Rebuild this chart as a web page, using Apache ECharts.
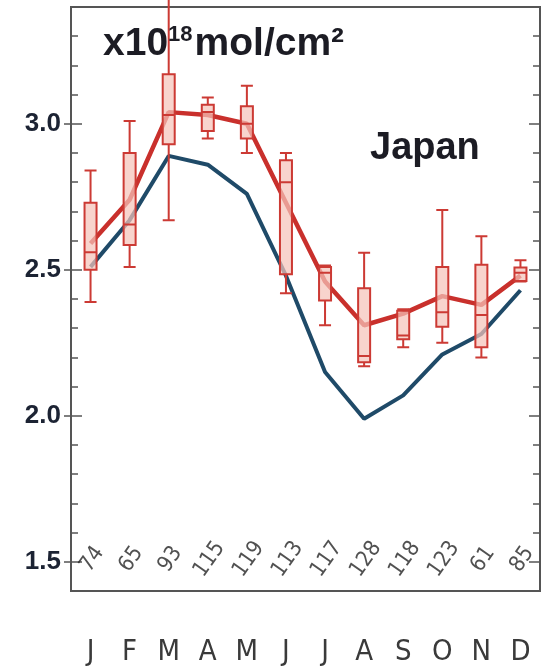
<!DOCTYPE html>
<html>
<head>
<meta charset="utf-8">
<script src="https://cdn.jsdelivr.net/npm/echarts@6/dist/echarts.min.js"></script>
<style>
  html, body { margin: 0; padding: 0; background: #ffffff; }
  #chart { width: 546px; height: 668px; }
</style>
</head>
<body>
<div id="chart"></div>
<script>
// Monthly column amounts (x10^18 mol/cm^2) over Japan
const months = ['J', 'F', 'M', 'A', 'M', 'J', 'J', 'A', 'S', 'O', 'N', 'D'];

// Model monthly mean (dark blue line)
const modelMean = [2.51, 2.67, 2.89, 2.86, 2.76, 2.48, 2.15, 1.99, 2.07, 2.21, 2.28, 2.43];

// Observed monthly mean (red line)
const obsMean = [2.59, 2.74, 3.04, 3.03, 3.00, 2.73, 2.46, 2.31, 2.35, 2.41, 2.38, 2.48];

// Observed distribution per month: [low whisker, Q1, median, Q3, high whisker]
const obsBoxes = [
  [2.39, 2.50, 2.56, 2.73, 2.84],
  [2.51, 2.585, 2.655, 2.90, 3.01],
  [2.67, 2.93, 3.03, 3.17, 3.45],
  [2.95, 2.975, 3.04, 3.065, 3.09],
  [2.90, 2.95, 3.00, 3.06, 3.13],
  [2.42, 2.485, 2.80, 2.875, 2.90],
  [2.31, 2.395, 2.49, 2.51, 2.515],
  [2.17, 2.183, 2.205, 2.437, 2.558],
  [2.235, 2.262, 2.275, 2.36, 2.365],
  [2.25, 2.305, 2.355, 2.51, 2.705],
  [2.20, 2.235, 2.345, 2.517, 2.615],
  [2.46, 2.462, 2.49, 2.508, 2.533]
];

// Number of observations in each month
const sampleCounts = [74, 65, 93, 115, 119, 113, 117, 128, 118, 123, 61, 85];

// Value axis range and the labelled levels
const yMin = 1.4;
const yMax = 3.4;
const yStep = 0.1;
const majorLevels = [1.5, 2.0, 2.5, 3.0];
const countLevel = 1.5;

const frameColor = '#555555';
const sans = '"Liberation Sans", Arial, sans-serif';
const condensed = '"DejaVu Sans Condensed", "Liberation Sans", sans-serif';

function valueAxis(extra) {
  return Object.assign({
    type: 'value',
    min: yMin,
    max: yMax,
    interval: yStep,
    splitLine: { show: false },
    axisLine: { show: false },
    axisTick: { show: false },
    axisLabel: { show: false }
  }, extra);
}

const chart = echarts.init(document.getElementById('chart'), null, { renderer: 'canvas' });

chart.setOption({
  backgroundColor: '#ffffff',
  animation: false,
  title: [
    {
      left: 103,
      top: 20,
      padding: 0,
      text: '{a|x10}{s|18}{a|mol/cm²}',
      textStyle: {
        rich: {
          a: { fontFamily: sans, fontWeight: 'bold', fontSize: 39, color: '#1c1c24', verticalAlign: 'bottom', lineHeight: 44 },
          s: { fontFamily: sans, fontWeight: 'bold', fontSize: 22, color: '#1c1c24', verticalAlign: 'bottom', lineHeight: 44, padding: [0, 2, 18, 0] }
        }
      }
    },
    {
      left: 370,
      top: 130,
      padding: 0,
      text: 'Japan',
      textStyle: { fontFamily: sans, fontWeight: 'bold', fontSize: 38, color: '#1c1c24' }
    }
  ],
  grid: {
    left: 71, right: 6, top: 7, bottom: 77,
    show: true,
    borderColor: frameColor,
    borderWidth: 2,
    backgroundColor: 'transparent'
  },
  xAxis: {
    type: 'category',
    data: months,
    boundaryGap: true,
    axisLine: { lineStyle: { color: frameColor, width: 2 } },
    axisTick: { alignWithLabel: true, length: 33, lineStyle: { color: '#444', width: 1.5 } },
    axisLabel: { margin: 47, fontFamily: condensed, fontSize: 29, color: '#3a3a3a' },
    splitLine: { show: false }
  },
  yAxis: [
    // left: minor ticks, labels and axis line
    valueAxis({
      position: 'left',
      axisLine: { show: true, lineStyle: { color: frameColor, width: 2 } },
      axisTick: { show: true, inside: true, length: 7, lineStyle: { color: frameColor, width: 1.5 } },
      axisLabel: {
        show: true, margin: 10,
        fontFamily: sans, fontWeight: 'bold', fontSize: 26, color: '#1c2333',
        formatter: function (v) {
          return majorLevels.some(function (m) { return Math.abs(m - v) < 1e-6; }) ? v.toFixed(1) : '';
        }
      }
    }),
    // left: long inner major ticks
    valueAxis({
      position: 'left',
      axisTick: { show: true, inside: true, length: 11, customValues: majorLevels, lineStyle: { color: frameColor, width: 1.5 } }
    }),
    // left: short outer major ticks
    valueAxis({
      position: 'left',
      axisTick: { show: true, inside: false, length: 7, customValues: majorLevels, lineStyle: { color: frameColor, width: 1.5 } }
    }),
    // right: minor ticks
    valueAxis({
      position: 'right',
      axisLine: { show: true, lineStyle: { color: frameColor, width: 2 } },
      axisTick: { show: true, inside: true, length: 7, lineStyle: { color: frameColor, width: 1.5 } }
    }),
    // right: major ticks
    valueAxis({
      position: 'right',
      axisTick: { show: true, inside: true, length: 11, customValues: majorLevels, lineStyle: { color: frameColor, width: 1.5 } }
    })
  ],
  series: [
    {
      name: 'Model',
      type: 'line',
      data: modelMean,
      symbol: 'none',
      lineStyle: { color: '#1f4a68', width: 4 },
      z: 2
    },
    {
      name: 'Observed mean',
      type: 'line',
      data: obsMean,
      symbol: 'none',
      lineStyle: { color: '#c9302c', width: 4.5 },
      z: 3
    },
    {
      name: 'Observed spread',
      type: 'boxplot',
      data: obsBoxes,
      boxWidth: [12, 12],
      itemStyle: { color: 'rgba(245, 196, 186, 0.72)', borderColor: '#cc3a34', borderWidth: 2 },
      z: 4
    },
    {
      name: 'Counts',
      type: 'scatter',
      data: sampleCounts.map(function (c, i) { return { value: [i, countLevel], count: c }; }),
      symbolSize: 0,
      silent: true,
      label: {
        show: true,
        position: 'inside',
        rotate: 55,
        offset: [3, 0],
        fontFamily: condensed,
        fontSize: 22,
        color: '#262626',
        formatter: function (p) { return String(p.data.count); }
      },
      z: 5
    }
  ]
});
</script>
</body>
</html>
